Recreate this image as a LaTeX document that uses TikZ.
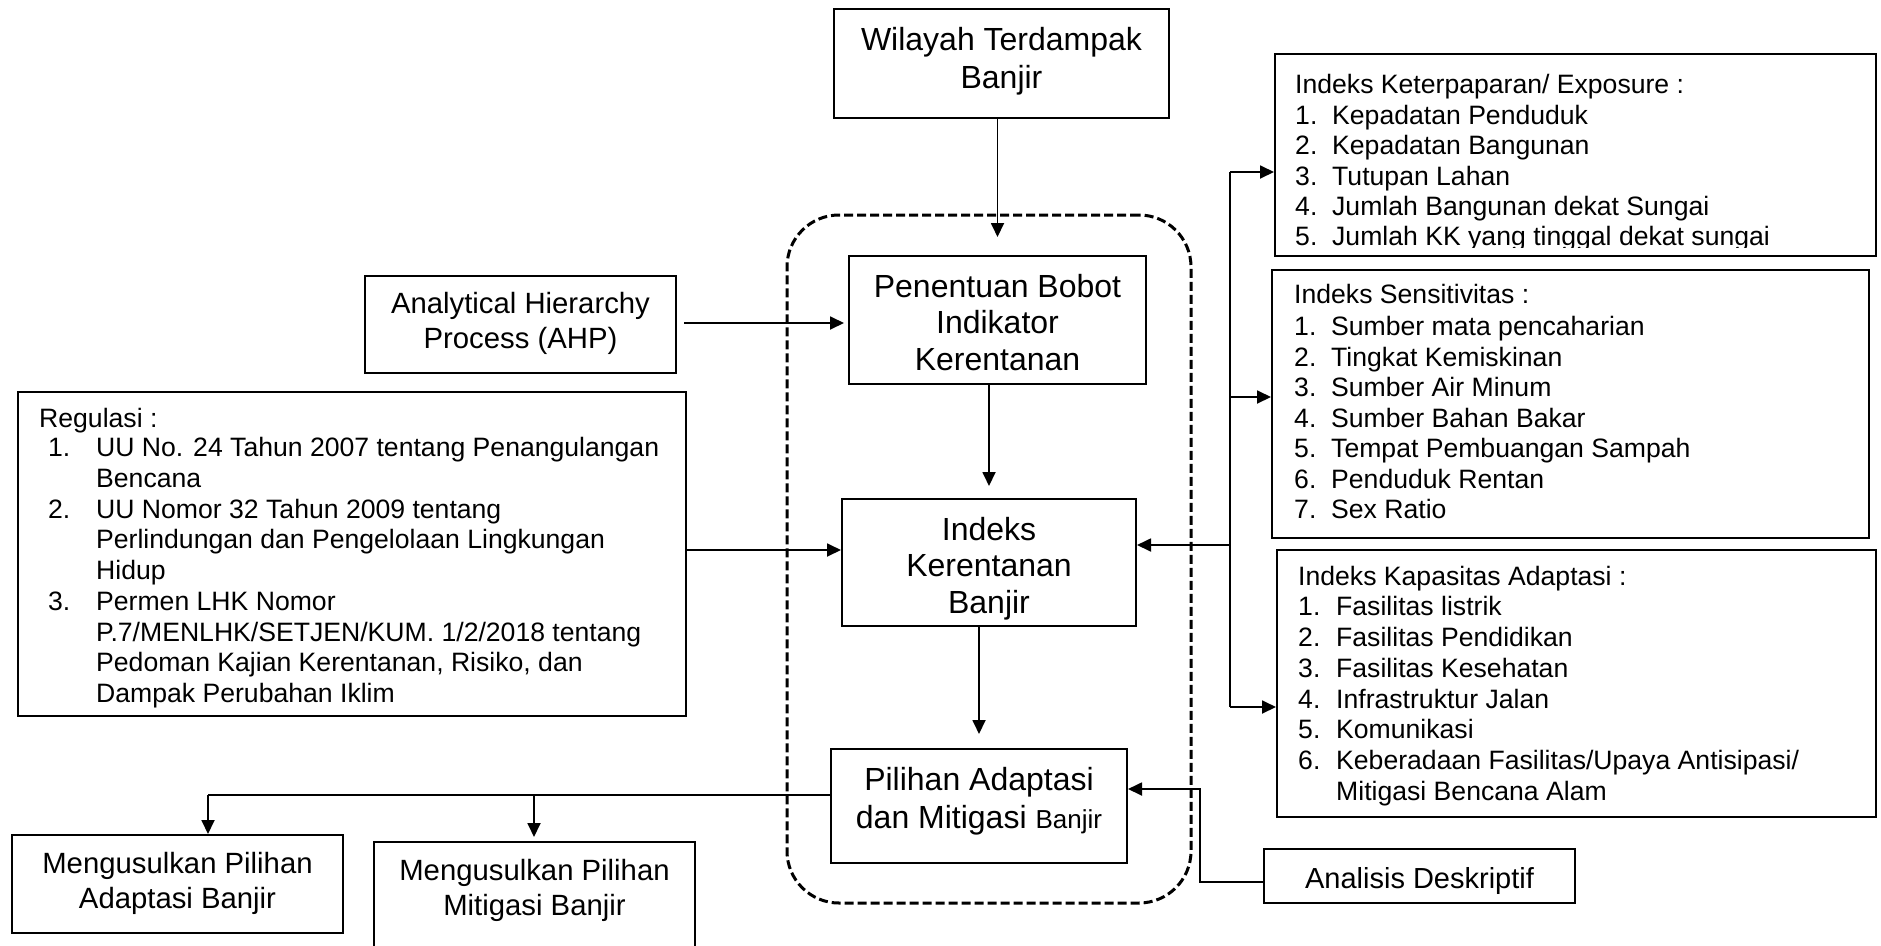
\documentclass[tikz,border=0pt]{standalone}
\usepackage{fontspec}
\setmainfont{Liberation Sans}
\usetikzlibrary{arrows.meta}
\newcommand\numlab[2][37pt]{\makebox[#1][l]{#2}}
\begin{document}
\begin{tikzpicture}[x=1pt,y=-1pt,
  box/.style={draw, line width=2pt, rectangle, inner sep=0pt},
  dashbox/.style={draw, line width=3pt, dash pattern=on 9pt off 4pt, rounded corners=52pt, rectangle, inner sep=0pt},
  txt/.style={inner sep=0pt, align=center, anchor=north},
  ltxt/.style={inner sep=0pt, align=left, anchor=north west},
  arr/.style={line width=1.8pt, -{Triangle[length=14pt,width=13pt]}},
  ln/.style={line width=1.8pt},
  midf/.style={font=\fontsize{29.3}{35}\selectfont}
]
\useasboundingbox (0,0) rectangle (1881,945);
\clip (0,0) rectangle (1881,945);
\fill[white] (0,0) rectangle (1881,945);

% dashed group
\node[dashbox, minimum width=404pt, minimum height=688pt] (grp) at (989,559) {};

% boxes
\node[box, minimum width=335pt, minimum height=109pt] (wil) at (1001.5,63.5) {};
\node[box, minimum width=297pt, minimum height=128pt] (pen) at (997.5,320) {};
\node[box, minimum width=311pt, minimum height=97pt] (ahp) at (520.5,324.5) {};
\node[box, minimum width=668pt, minimum height=324pt] (reg) at (352,554) {};
\node[box, minimum width=294pt, minimum height=127pt] (ikb) at (989,562.5) {};
\node[box, minimum width=296pt, minimum height=114pt] (pil) at (979,806) {};
\node[box, minimum width=311pt, minimum height=54pt] (ana) at (1419.5,876) {};
\node[box, minimum width=331pt, minimum height=98pt] (ada) at (177.5,884) {};
\node[box, minimum width=321pt, minimum height=118pt] (mit) at (534.5,901) {};
\node[box, minimum width=601pt, minimum height=202pt] (expo) at (1575.5,155) {};
\node[box, minimum width=597pt, minimum height=268pt] (sens) at (1570.5,404) {};
\node[box, minimum width=599pt, minimum height=267pt] (kap) at (1576.5,683.5) {};

% texts in boxes
\node[txt, font=\fontsize{32}{38}\selectfont] (wilT) at (1001.5,23.4) {\strut Wilayah Terdampak\\Banjir};
\node[txt, font=\fontsize{32}{36.5}\selectfont] (penT) at (997.5,271.45) {\strut Penentuan Bobot\\Indikator\\Kerentanan};
\node[txt, midf] (ahpT) at (520.5,288.5) {\strut Analytical Hierarchy\\Process (AHP)};
\node[txt, font=\fontsize{32}{36.5}\selectfont] (ikbT) at (989,514.45) {\strut Indeks\\Kerentanan\\Banjir};
\node[txt, font=\fontsize{32}{38}\selectfont] (pilT) at (979,763.4) {\strut Pilihan Adaptasi\\dan Mitigasi {\fontsize{26}{38}\selectfont Banjir}};
\node[txt, midf] (adaT) at (177.5,848.5) {\strut Mengusulkan Pilihan\\Adaptasi Banjir};
\node[txt, midf] (mitT) at (534.5,855.5) {\strut Mengusulkan Pilihan\\Mitigasi Banjir};
\node[txt, font=\fontsize{29}{35}\selectfont] (anaT) at (1419.5,863.5) {\strut Analisis Deskriptif};

% regulasi list
\node[ltxt, font=\fontsize{26.6}{30.7}\selectfont] (regT) at (39,406) {\strut Regulasi :\\[-1.5pt]
\hspace*{9pt}\numlab[48pt]{1.}UU No. 24 Tahun 2007 tentang Penangulangan\\
\hspace*{57pt}Bencana\\
\hspace*{9pt}\numlab[48pt]{2.}UU Nomor 32 Tahun 2009 tentang\\
\hspace*{57pt}Perlindungan dan Pengelolaan Lingkungan\\
\hspace*{57pt}Hidup\\
\hspace*{9pt}\numlab[48pt]{3.}Permen LHK Nomor\\
\hspace*{57pt}P.7/MENLHK/SETJEN/KUM. 1/2/2018 tentang\\
\hspace*{57pt}Pedoman Kajian Kerentanan, Risiko, dan\\
\hspace*{57pt}Dampak Perubahan Iklim};

% exposure list
\begin{scope}
\clip (1276,55) rectangle (1875,247);
\node[ltxt, font=\fontsize{26.6}{30.4}\selectfont] (expoT) at (1295,72.5) {\strut Indeks Keterpaparan/ Exposure :\\
\numlab{1.}Kepadatan Penduduk\\
\numlab{2.}Kepadatan Bangunan\\
\numlab{3.}Tutupan Lahan\\
\numlab{4.}Jumlah Bangunan dekat Sungai\\
\numlab{5.}Jumlah KK yang tinggal dekat sungai};
\end{scope}

% sensitivitas list
\node[ltxt, font=\fontsize{26.6}{30.5}\selectfont] (sensT) at (1294,281.5) {\strut Indeks Sensitivitas :\\[2pt]
\numlab{1.}Sumber mata pencaharian\\
\numlab{2.}Tingkat Kemiskinan\\
\numlab{3.}Sumber Air Minum\\
\numlab{4.}Sumber Bahan Bakar\\
\numlab{5.}Tempat Pembuangan Sampah\\
\numlab{6.}Penduduk Rentan\\
\numlab{7.}Sex Ratio};

% kapasitas list
\node[ltxt, font=\fontsize{26.6}{30.7}\selectfont] (kapT) at (1298,563.5) {\strut Indeks Kapasitas Adaptasi :\\
\numlab[38pt]{1.}Fasilitas listrik\\
\numlab[38pt]{2.}Fasilitas Pendidikan\\
\numlab[38pt]{3.}Fasilitas Kesehatan\\
\numlab[38pt]{4.}Infrastruktur Jalan\\
\numlab[38pt]{5.}Komunikasi\\
\numlab[38pt]{6.}Keberadaan Fasilitas/Upaya Antisipasi/\\
\hspace*{38pt}Mitigasi Bencana Alam};

% connectors in the centre column
\draw[arr, shorten >=18pt] (wil.south -| pen.north) -- (pen.north);
\draw[arr, shorten <=7pt, shorten >=4pt] (ahp.east |- 0,323) -- (pen.west |- 0,323);
\draw[arr, shorten >=12pt] (pen.south -| ikb.north) -- (ikb.north);
\draw[arr, shorten >=14pt] (ikb.south -| pil.north) -- (pil.north);
\draw[arr] (reg.east |- 0,550) -- (ikb.west |- 0,550);

% right bus
\coordinate (busT) at (1230,172);
\coordinate (busS) at (1230,397);
\coordinate (busI) at (1230,545);
\coordinate (busK) at (1230,707);
\draw[line width=2.2pt] (busT) -- (busK);
\draw[arr] (busT) -- (busT -| expo.west);
\draw[arr] (busS) -- (busS -| sens.west);
\draw[arr] (busK) -- (busK -| kap.west);
\draw[arr] (busI) -- (busI -| ikb.east);

% analisis deskriptif
\coordinate (anA) at (1200,882);
\coordinate (anB) at (1200,789);
\draw[arr] (ana.west |- anA) -- (anA) -- (anB) -- (anB -| pil.east);

% split to proposals
\coordinate (spA) at (208,795);
\coordinate (spB) at (534,795);
\draw[ln] (pil.west |- spA) -- (spA);
\draw[arr] (spA) -- (spA |- ada.north);
\draw[arr, shorten >=4pt] (spB) -- (spB |- mit.north);
\end{tikzpicture}
\end{document}
